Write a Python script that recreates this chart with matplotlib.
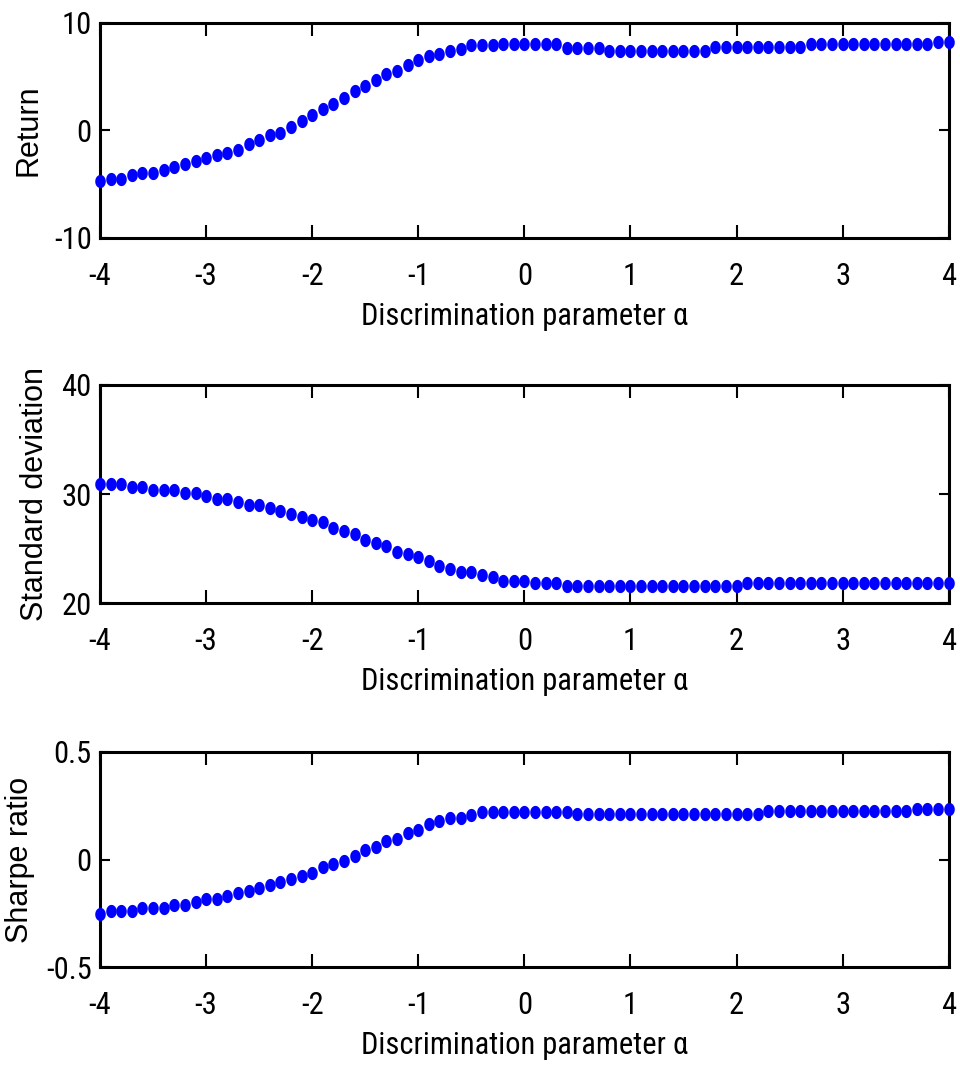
import numpy as np
import matplotlib
matplotlib.use("Agg")
import matplotlib.pyplot as plt
from matplotlib.path import Path
from matplotlib import font_manager as fm

# Discrimination parameter grid
alpha = np.round(np.arange(-4.0, 4.0001, 0.1), 1)

ret_values = [
    -4.74, -4.49, -4.49, -4.19, -3.93, -3.95, -3.66, -3.41, -3.09, -2.88,
    -2.57, -2.32, -2.08, -1.80, -1.30, -0.93, -0.47, -0.21, 0.31, 0.87,
    1.40, 2.01, 2.48, 3.04, 3.62, 4.12, 4.65, 5.20, 5.51, 6.04,
    6.57, 6.88, 7.07, 7.38, 7.59, 7.92, 7.95, 7.95, 7.98, 7.98,
    7.98, 7.98, 7.98, 7.98, 7.67, 7.67, 7.67, 7.67, 7.39, 7.39,
    7.39, 7.39, 7.39, 7.39, 7.39, 7.39, 7.39, 7.39, 7.70, 7.70,
    7.70, 7.70, 7.70, 7.70, 7.70, 7.70, 7.70, 7.98, 7.98, 7.98,
    7.98, 7.98, 7.98, 7.98, 7.98, 7.98, 7.98, 7.98, 7.98, 8.20,
    8.20,
]

std_values = [
    30.92, 30.92, 30.92, 30.67, 30.67, 30.37, 30.37, 30.37, 30.09, 30.09,
    29.82, 29.57, 29.57, 29.29, 29.01, 29.01, 28.77, 28.46, 28.21, 27.94,
    27.66, 27.45, 26.92, 26.65, 26.37, 25.82, 25.54, 25.26, 24.71, 24.50,
    24.22, 23.92, 23.42, 23.15, 22.90, 22.87, 22.63, 22.38, 22.07, 22.07,
    22.07, 21.82, 21.82, 21.82, 21.60, 21.60, 21.60, 21.60, 21.60, 21.60,
    21.60, 21.60, 21.60, 21.60, 21.60, 21.60, 21.60, 21.60, 21.60, 21.60,
    21.60, 21.88, 21.88, 21.88, 21.88, 21.88, 21.88, 21.88, 21.88, 21.88,
    21.88, 21.88, 21.88, 21.88, 21.88, 21.88, 21.88, 21.88, 21.88, 21.88,
    21.88,
]

sharpe_values = [
    -0.251, -0.239, -0.239, -0.239, -0.225, -0.225, -0.225, -0.212, -0.212, -0.199,
    -0.185, -0.185, -0.171, -0.157, -0.144, -0.130, -0.118, -0.104, -0.090, -0.078,
    -0.063, -0.036, -0.022, -0.008, 0.018, 0.044, 0.058, 0.084, 0.097, 0.125,
    0.139, 0.165, 0.179, 0.192, 0.192, 0.205, 0.219, 0.219, 0.222, 0.222,
    0.222, 0.222, 0.222, 0.222, 0.222, 0.210, 0.210, 0.210, 0.210, 0.210,
    0.210, 0.210, 0.210, 0.210, 0.210, 0.210, 0.210, 0.210, 0.210, 0.210,
    0.210, 0.210, 0.210, 0.223, 0.223, 0.223, 0.223, 0.223, 0.223, 0.223,
    0.223, 0.223, 0.223, 0.223, 0.223, 0.223, 0.223, 0.236, 0.236, 0.236,
    0.236,
]

x_ticks = [-4, -3, -2, -1, 0, 1, 2, 3, 4]
ret_ticks = [-10, 0, 10]
std_ticks = [20, 30, 40]
sharpe_ticks = [-0.5, 0, 0.5]
sharpe_ticklabels = ["-0.5", "0", "0.5"]

x_label = "Discrimination parameter α"
y_labels = ["Return", "Standard deviation", "Sharpe ratio"]


def narrow_font():
    """Pick the narrowest installed condensed sans face, if any."""
    ranked = []
    for f in fm.fontManager.ttflist:
        if f.style != "normal" or f.weight not in (400, "normal", "regular"):
            continue
        if f.name in ("Liberation Sans Narrow", "Arial Narrow"):
            ranked.append((0, f.fname))
        elif f.name == "Roboto Condensed" or (f.name == "Roboto" and f.stretch == "condensed"):
            ranked.append((1, f.fname))
        elif f.name in ("Noto Sans", "Open Sans") and f.stretch == "condensed":
            ranked.append((2, f.fname))
        elif "Condensed" in f.name or "Narrow" in f.name:
            ranked.append((3, f.fname))
        elif f.name == "DejaVu Sans" and f.stretch in ("condensed", "semi-condensed"):
            ranked.append((4, f.fname))
    if ranked:
        ranked.sort()
        return ranked[0][1]
    return None


nf = narrow_font()
tick_size = 22.0
label_size = 22.0


def narrow_fp(size):
    if nf:
        return fm.FontProperties(fname=nf, size=size)
    return fm.FontProperties(family=["Liberation Sans", "DejaVu Sans"], size=size)


tick_fp = narrow_fp(tick_size)
xlabel_fp = narrow_fp(label_size)
ylabel_fp = fm.FontProperties(family=["Liberation Sans", "DejaVu Sans"], size=22)

# slightly tall elliptical dot
t = np.linspace(0, 2 * np.pi, 60)
dot = Path(np.column_stack([0.8 * np.cos(t), np.sin(t)]), closed=True)

fig = plt.figure(figsize=(9.6, 10.73), dpi=100)
fig.patch.set_facecolor("white")

rects = [
    [0.1042, 0.7782, 0.884, 0.2007],
    [0.1042, 0.4377, 0.884, 0.2035],
    [0.1042, 0.0985, 0.884, 0.2009],
]
series = [ret_values, std_values, sharpe_values]
yticks = [ret_ticks, std_ticks, sharpe_ticks]
yticklabels = [[str(v) for v in ret_ticks], [str(v) for v in std_ticks], sharpe_ticklabels]
ylims = [(-10, 10), (20, 40), (-0.5, 0.5)]
ylabel_x = [-0.0666, -0.0595, -0.0766]

axes = []
for i in range(3):
    ax = fig.add_axes(rects[i])
    ax.plot(alpha, series[i], linestyle="none", marker=dot, markersize=9.5,
            color="#0000ff", markeredgewidth=0, clip_on=False, zorder=3)
    ax.set_xlim(-4, 4)
    ax.set_ylim(*ylims[i])
    ax.set_xticks(x_ticks)
    ax.set_xticklabels([str(v) for v in x_ticks], fontproperties=tick_fp)
    ax.set_yticks(yticks[i])
    ax.set_yticklabels(yticklabels[i], fontproperties=tick_fp)
    for s in ax.spines.values():
        s.set_linewidth(2.2)
        s.set_color("black")
    ax.tick_params(axis="x", direction="in", length=9.5, width=1.5,
                   top=True, bottom=True, pad=17)
    ax.tick_params(axis="y", direction="in", length=7.2, width=1.5,
                   left=True, right=True, pad=6)
    ax.set_xlabel(x_label, fontproperties=xlabel_fp, labelpad=8)
    ax.set_ylabel(y_labels[i], fontproperties=ylabel_fp)
    ax.yaxis.set_label_coords(ylabel_x[i], 0.5)
    axes.append(ax)

# keep the axis-label line from running much wider than ~330 px
fig.canvas.draw()
w = axes[0].xaxis.label.get_window_extent().width
size = min(label_size, label_size * 330.0 / w)
for ax in axes:
    ax.xaxis.label.set_fontsize(size)

fig.savefig("out.png", dpi=100, facecolor="white")
